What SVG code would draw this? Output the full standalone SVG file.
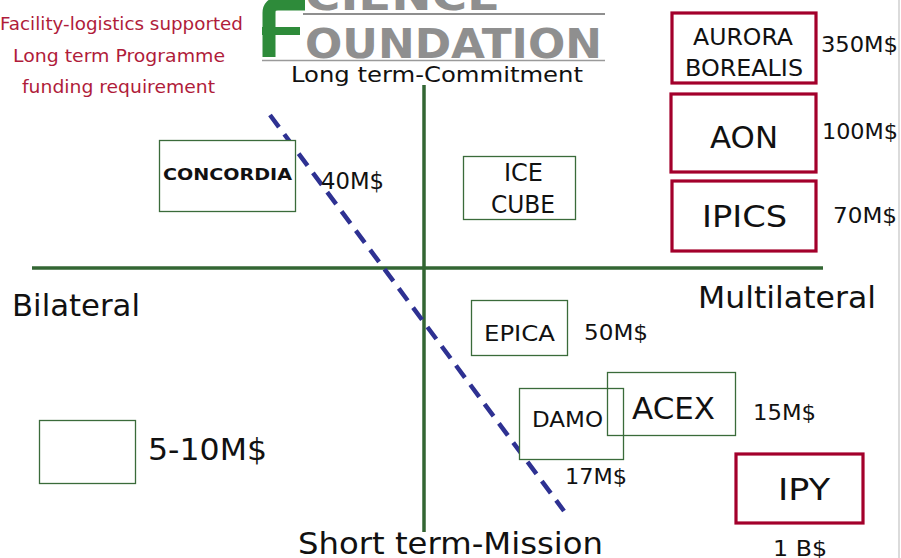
<svg xmlns="http://www.w3.org/2000/svg" width="901" height="558" viewBox="0 0 901 558">
<style>
text{font-family:"DejaVu Sans","Liberation Sans",sans-serif;fill:#111}
.red{fill:#b01c3a}
.gbox{fill:#fff;stroke:#3a6b3a;stroke-width:1.3}
.rbox{fill:#fff;stroke:#a3002b;stroke-width:3.2}
.axis{stroke:#336633;stroke-width:3.5;fill:none}
.dash{stroke:#2e3192;stroke-width:4.5;stroke-dasharray:15 9;fill:none}
.logo{fill:#8f8f8f;font-weight:bold}
</style>
<rect width="901" height="558" fill="#fff"/>
<line x1="899" y1="0" x2="899" y2="558" stroke="#cfcfcf" stroke-width="1.5"/>

<g id="notes">
<text class="red" x="0" y="30" font-size="17.5" textLength="243" lengthAdjust="spacingAndGlyphs">Facility-logistics supported</text>
<text class="red" x="13" y="62" font-size="17.5" textLength="212" lengthAdjust="spacingAndGlyphs">Long term Programme</text>
<text class="red" x="22" y="93" font-size="17.5" textLength="193" lengthAdjust="spacingAndGlyphs">funding requirement</text>
</g>

<g id="logo">
<path d="M269 57 V13 Q269 4 278 4 H305" stroke="#2e8b3a" stroke-width="13" fill="none"/>
<rect x="262" y="27" width="38" height="8" fill="#2e8b3a"/>
<text class="logo" x="305" y="10" font-size="41" textLength="195" lengthAdjust="spacingAndGlyphs">CIENCE</text>
<line x1="303" y1="14" x2="605" y2="14" stroke="#8f8f8f" stroke-width="2"/>
<text class="logo" x="305" y="58" font-size="41" textLength="297" lengthAdjust="spacingAndGlyphs">OUNDATION</text>
<line x1="262" y1="60.5" x2="605" y2="60.5" stroke="#9a9a9a" stroke-width="1.5"/>
</g>

<g id="connectors">
<line class="axis" x1="424" y1="85" x2="424" y2="532"/>
<line class="axis" x1="32" y1="268" x2="823" y2="268"/>
<line class="dash" x1="270" y1="115" x2="564" y2="511"/>
</g>

<g id="axis-labels">
<text x="291" y="82" font-size="22" textLength="292" lengthAdjust="spacingAndGlyphs">Long term-Commitment</text>
<text x="12" y="316" font-size="31" textLength="128" lengthAdjust="spacingAndGlyphs">Bilateral</text>
<text x="698" y="308" font-size="30" textLength="178" lengthAdjust="spacingAndGlyphs">Multilateral</text>
<text x="298" y="554" font-size="30" textLength="305" lengthAdjust="spacingAndGlyphs">Short term-Mission</text>
</g>

<g id="concordia">
<rect class="gbox" x="159.5" y="140.5" width="136" height="71"/>
<text x="163" y="180" font-size="16" font-weight="bold" textLength="129" lengthAdjust="spacingAndGlyphs">CONCORDIA</text>
<text x="321" y="189" font-size="23" textLength="63" lengthAdjust="spacingAndGlyphs">40M$</text>
</g>

<g id="icecube">
<rect class="gbox" x="463.5" y="156.5" width="112" height="63"/>
<text x="504" y="181" font-size="24" textLength="39" lengthAdjust="spacingAndGlyphs">ICE</text>
<text x="491" y="213" font-size="24" textLength="64" lengthAdjust="spacingAndGlyphs">CUBE</text>
</g>

<g id="aurora">
<rect class="rbox" x="672" y="13" width="144" height="70"/>
<text x="693" y="45" font-size="23" textLength="100" lengthAdjust="spacingAndGlyphs">AURORA</text>
<text x="685" y="76" font-size="23" textLength="118" lengthAdjust="spacingAndGlyphs">BOREALIS</text>
<text x="821" y="52" font-size="22" textLength="77" lengthAdjust="spacingAndGlyphs">350M$</text>
</g>

<g id="aon">
<rect class="rbox" x="671" y="94" width="145" height="78"/>
<text x="710" y="148" font-size="30" textLength="68" lengthAdjust="spacingAndGlyphs">AON</text>
<text x="822" y="139" font-size="22" textLength="76" lengthAdjust="spacingAndGlyphs">100M$</text>
</g>

<g id="ipics">
<rect class="rbox" x="672" y="181" width="144" height="70"/>
<text x="702" y="227" font-size="30" textLength="85" lengthAdjust="spacingAndGlyphs">IPICS</text>
<text x="833" y="223" font-size="22" textLength="64" lengthAdjust="spacingAndGlyphs">70M$</text>
</g>

<g id="epica">
<rect class="gbox" x="471.5" y="300.5" width="96" height="55"/>
<text x="484" y="341" font-size="22" textLength="71" lengthAdjust="spacingAndGlyphs">EPICA</text>
<text x="584" y="340" font-size="22" textLength="64" lengthAdjust="spacingAndGlyphs">50M$</text>
</g>

<g id="damo">
<rect class="gbox" x="519.5" y="388.5" width="104" height="71"/>
<text x="532" y="427" font-size="22" textLength="71" lengthAdjust="spacingAndGlyphs">DAMO</text>
<text x="565" y="484" font-size="22" textLength="62" lengthAdjust="spacingAndGlyphs">17M$</text>
</g>

<g id="acex">
<rect class="gbox" x="607.5" y="372.5" width="128" height="63" fill-opacity="0"/>
<text x="632" y="419" font-size="30" textLength="83" lengthAdjust="spacingAndGlyphs">ACEX</text>
<text x="753" y="420" font-size="22" textLength="63" lengthAdjust="spacingAndGlyphs">15M$</text>
</g>

<g id="ipy">
<rect class="rbox" x="736" y="454" width="127" height="69"/>
<text x="778" y="500" font-size="30" textLength="52" lengthAdjust="spacingAndGlyphs">IPY</text>
<text x="773" y="556" font-size="22" textLength="54" lengthAdjust="spacingAndGlyphs">1 B$</text>
</g>

<g id="small">
<rect class="gbox" x="39.5" y="420.5" width="96" height="63"/>
<text x="148" y="460" font-size="31" textLength="119" lengthAdjust="spacingAndGlyphs">5-10M$</text>
</g>
</svg>
